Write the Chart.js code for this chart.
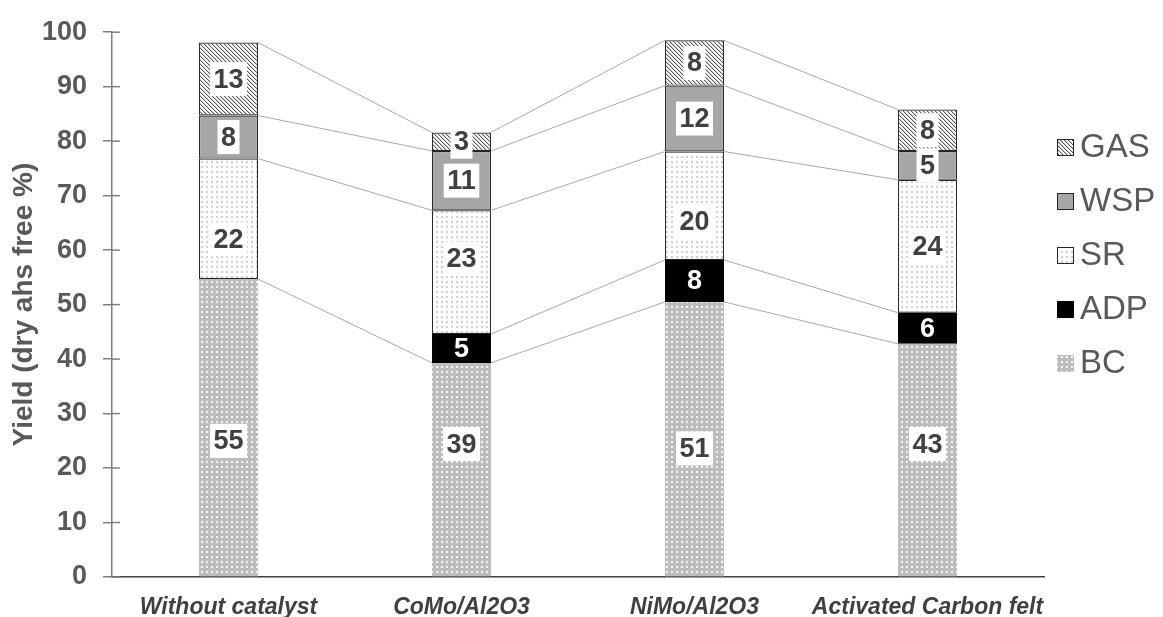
<!DOCTYPE html>
<html>
<head>
<meta charset="utf-8">
<title>Yield by catalyst</title>
<script src="https://cdn.jsdelivr.net/npm/chart.js@4.4.1/dist/chart.umd.min.js"></script>
<style>
    html, body { margin: 0; padding: 0; background: #fff; }
    #wrap { width: 1163px; height: 617px; position: relative; }
</style>
</head>
<body>
<div id="wrap"><canvas id="yieldChart"></canvas></div>
<script>
const categories = ["Without catalyst", "CoMo/Al2O3", "NiMo/Al2O3", "Activated Carbon felt"];
const bcValues  = [54.7, 39.3, 50.5, 42.8];
const adpValues = [null, 5.3, 7.7, 5.7];
const srValues  = [22.1, 22.7, 19.9, 24.4];
const wspValues = [7.9, 10.9, 12.1, 5.3];
const gasValues = [13.4, 3.4, 8.3, 7.6];
const yTickValues = [0, 10, 20, 30, 40, 50, 60, 70, 80, 90, 100];

const FONT = "'Liberation Sans', Arial, sans-serif";
Chart.defaults.font.family = FONT;

// labels that were moved off the segment centre in the original (axis units)
const movedLabels = {
    BC: [25, 24.4, 23.6, 24.4],
    SR: [62, 58.4, 65.3, null]
};

// small tiles used as fill patterns
function makePattern(size, draw) {
    const c = document.createElement("canvas");
    c.width = size;
    c.height = size;
    draw(c.getContext("2d"), size);
    return document.createElement("canvas").getContext("2d").createPattern(c, "repeat");
}

const bcFill = makePattern(5, (g, s) => {
    g.fillStyle = "#bdbdbd";
    g.fillRect(0, 0, s, s);
    g.fillStyle = "#f6f6f6";
    g.fillRect(1, 1, 2, 2);
});
const srFill = makePattern(5, (g, s) => {
    g.fillStyle = "#ffffff";
    g.fillRect(0, 0, s, s);
    g.fillStyle = "#cfcfcf";
    g.fillRect(1, 1, 2, 2);
});
const gasFill = makePattern(4, (g, s) => {
    g.fillStyle = "#ffffff";
    g.fillRect(0, 0, s, s);
    for (let yy = 0; yy < s; yy++) {
        for (let xx = 0; xx < s; xx++) {
            const k = ((xx - yy) % s + s) % s;
            if (k === 0) { g.fillStyle = "#5a5a5a"; g.fillRect(xx, yy, 1, 1); }
            if (k === 1) { g.fillStyle = "#c8c8c8"; g.fillRect(xx, yy, 1, 1); }
        }
    }
});

const BORDER = "#262626";

// thin grey lines joining the top of each series from bar to bar
const seriesLines = {
    id: "seriesLines",
    beforeDatasetsDraw(chart) {
        const ctx = chart.ctx;
        ctx.save();
        ctx.strokeStyle = "#a8a8a8";
        ctx.lineWidth = 1;
        chart.data.datasets.forEach((ds, d) => {
            const bars = chart.getDatasetMeta(d).data;
            for (let i = 0; i < bars.length - 1; i++) {
                if (ds.data[i] == null || ds.data[i + 1] == null) continue;
                const a = bars[i], b = bars[i + 1];
                ctx.beginPath();
                ctx.moveTo(a.x + a.width / 2, a.y);
                ctx.lineTo(b.x - b.width / 2, b.y);
                ctx.stroke();
            }
        });
        ctx.restore();
    }
};

// value labels in white boxes
const valueLabels = {
    id: "valueLabels",
    afterDatasetsDraw(chart) {
        const ctx = chart.ctx;
        const yScale = chart.scales.y;
        ctx.save();
        ctx.font = "bold 27px " + FONT;
        ctx.textAlign = "center";
        ctx.textBaseline = "middle";
        chart.data.datasets.forEach((ds, d) => {
            const bars = chart.getDatasetMeta(d).data;
            bars.forEach((el, i) => {
                const v = ds.data[i];
                if (v == null) return;
                const txt = String(Math.round(v));
                let cy = (el.y + el.base) / 2;
                const moved = movedLabels[ds.label];
                if (moved && moved[i] != null) cy = yScale.getPixelForValue(moved[i]);
                const w = ctx.measureText(txt).width + 7;
                if (ds.label !== "ADP") {
                    ctx.fillStyle = "#ffffff";
                    ctx.fillRect(el.x - w / 2, cy - 17, w, 34);
                    ctx.fillStyle = "#404040";
                } else {
                    ctx.fillStyle = "#ffffff";
                }
                ctx.fillText(txt, el.x, cy + 1);
            });
        });
        ctx.restore();
    }
};

// tick marks that cross the y axis line
const crossTicks = {
    id: "crossTicks",
    afterDraw(chart) {
        const y = chart.scales.y;
        const ctx = chart.ctx;
        ctx.save();
        ctx.strokeStyle = "#7f7f7f";
        ctx.lineWidth = 1.5;
        y.ticks.forEach((t, i) => {
            const py = y.getPixelForTick(i);
            ctx.beginPath();
            ctx.moveTo(y.right, py);
            ctx.lineTo(y.right + 8, py);
            ctx.stroke();
        });
        ctx.restore();
    }
};

// legend at the right, top series first
const sideLegend = {
    id: "sideLegend",
    afterDraw(chart) {
        const ctx = chart.ctx;
        const x = chart.chartArea.right + 13;
        ctx.save();
        ctx.font = "33px " + FONT;
        ctx.textBaseline = "middle";
        const items = chart.data.datasets.slice().reverse();
        items.forEach((ds, i) => {
            const cy = 147 + i * 54;
            ctx.fillStyle = ds.backgroundColor;
            ctx.fillRect(x, cy - 8, 17, 17);
            if (ds.borderWidth) {
                ctx.strokeStyle = BORDER;
                ctx.lineWidth = 1;
                ctx.strokeRect(x + 0.5, cy - 7.5, 16, 16);
            }
            ctx.fillStyle = "#595959";
            ctx.fillText(ds.label, x + 23, cy + 1);
        });
        ctx.restore();
    }
};

const barStyle = { borderSkipped: false, barPercentage: 0.253, categoryPercentage: 1 };

new Chart(document.getElementById("yieldChart"), {
    type: "bar",
    data: {
        labels: categories,
        datasets: [
            { label: "BC", data: bcValues, backgroundColor: bcFill, borderWidth: 0, ...barStyle },
            { label: "ADP", data: adpValues, backgroundColor: "#000000", borderWidth: 0, ...barStyle },
            { label: "SR", data: srValues, backgroundColor: srFill, borderColor: BORDER, borderWidth: 1.2, ...barStyle },
            { label: "WSP", data: wspValues, backgroundColor: "#a6a6a6", borderColor: BORDER, borderWidth: 1.2, ...barStyle },
            { label: "GAS", data: gasValues, backgroundColor: gasFill, borderColor: BORDER, borderWidth: 1.2, ...barStyle }
        ]
    },
    options: {
        responsive: true,
        maintainAspectRatio: false,
        animation: false,
        layout: { padding: { top: 27, right: 119, left: 0, bottom: 0 } },
        plugins: {
            legend: { display: false },
            tooltip: { enabled: false }
        },
        scales: {
            x: {
                stacked: true,
                grid: { drawOnChartArea: false, drawTicks: false },
                border: { display: true, color: "#404040", width: 1.5 },
                ticks: {
                    color: "#404040",
                    font: { size: 23, weight: "bold", style: "italic" },
                    padding: 17,
                    maxRotation: 0,
                    autoSkip: false
                },
                afterFit: (s) => { s.height = 40; }
            },
            y: {
                stacked: true,
                min: 0,
                max: 100,
                afterBuildTicks: (s) => { s.ticks = yTickValues.map(v => ({ value: v })); },
                grid: { drawOnChartArea: false, drawTicks: true, tickLength: 9, color: "#7f7f7f", lineWidth: 1.5 },
                border: { display: true, color: "#7f7f7f", width: 1.5 },
                ticks: {
                    color: "#595959",
                    font: { size: 27, weight: "bold" },
                    padding: 16
                },
                title: {
                    display: true,
                    text: "Yield (dry ahs free %)",
                    color: "#595959",
                    font: { size: 28, weight: "bold" },
                    padding: { top: 7, bottom: 0 }
                },
                afterFit: (s) => { s.width = 112; }
            }
        }
    },
    plugins: [seriesLines, valueLabels, crossTicks, sideLegend]
});
</script>
</body>
</html>
